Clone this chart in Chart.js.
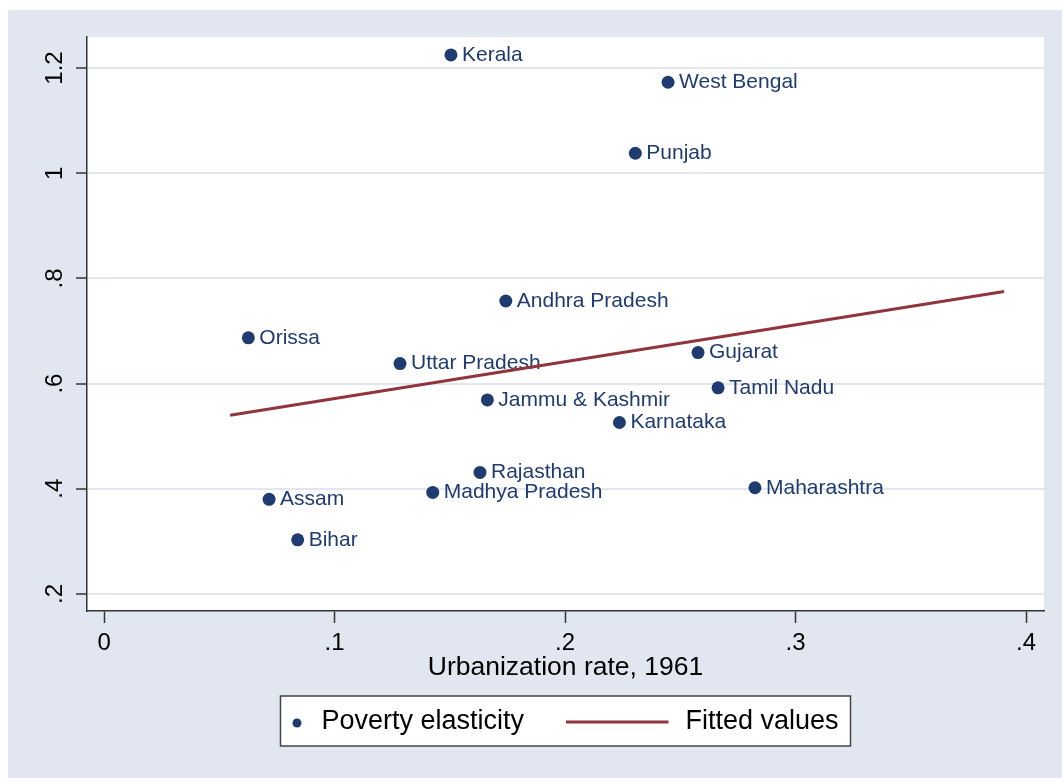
<!DOCTYPE html>
<html>
<head>
<meta charset="utf-8">
<title>Poverty elasticity vs urbanization, 1961</title>
<script src="https://cdn.jsdelivr.net/npm/chart.js@4.4.1/dist/chart.umd.min.js"></script>
<style>
  html, body { margin: 0; padding: 0; background: #ffffff; }
  #wrap { position: absolute; left: 8px; top: 10px; width: 1054px; height: 768px; background: #E1E6F0; }
  canvas { display: block; }
</style>
</head>
<body>
<div id="wrap"><canvas id="chart" width="1054" height="768"></canvas></div>
<script>
// States and their values
const states = [
  "Kerala", "West Bengal", "Punjab", "Andhra Pradesh", "Orissa", "Uttar Pradesh",
  "Gujarat", "Tamil Nadu", "Jammu & Kashmir", "Karnataka", "Rajasthan",
  "Madhya Pradesh", "Maharashtra", "Assam", "Bihar"
];
const urbanization = [
  0.1505, 0.2447, 0.2305, 0.1743, 0.0626, 0.1284,
  0.2577, 0.2664, 0.1663, 0.2236, 0.1631,
  0.1426, 0.2824, 0.0716, 0.0840
];
const povertyElasticity = [
  1.225, 1.173, 1.038, 0.757, 0.687, 0.638,
  0.659, 0.592, 0.569, 0.526, 0.431,
  0.393, 0.402, 0.380, 0.303
];

// Fitted line end points
const fitX = [0.0547, 0.3905];
const fitY = [0.5396, 0.7750];

// Axis ticks
const xTicks = [0, 0.1, 0.2, 0.3, 0.4];
const xTickLabels = ["0", ".1", ".2", ".3", ".4"];
const yTicks = [0.2, 0.4, 0.6, 0.8, 1.0, 1.2];
const yTickLabels = [".2", ".4", ".6", ".8", "1", "1.2"];

const NAVY = "#1F3B6F";
const MAROON = "#90353B";
const BG = "#E1E6F0";
const AXIS = "#333333";
const FONT = "'Liberation Sans', Arial, Helvetica, sans-serif";

const plotBackground = {
  id: "plotBackground",
  beforeDraw(chart) {
    const { ctx, chartArea: a } = chart;
    ctx.save();
    ctx.fillStyle = "#ffffff";
    ctx.fillRect(a.left, a.top, a.right - a.left, a.bottom - a.top);
    ctx.restore();
  },
};

// Marker labels, drawn right after the scatter so the fitted line sits on top
const pointLabels = {
  id: "pointLabels",
  afterDatasetDraw(chart, args) {
    if (args.index !== 0) return;
    const { ctx } = chart;
    ctx.save();
    ctx.font = "21px " + FONT;
    ctx.fillStyle = NAVY;
    ctx.textAlign = "left";
    ctx.textBaseline = "middle";
    args.meta.data.forEach((pt, i) => {
      ctx.fillText(states[i], pt.x + 11, pt.y);
    });
    ctx.restore();
  },
};

// Rotated y tick labels (Stata style)
const yTickText = {
  id: "yTickText",
  afterDraw(chart) {
    const { ctx, chartArea: a } = chart;
    const y = chart.scales.y;
    ctx.save();
    ctx.font = "24px " + FONT;
    ctx.fillStyle = "#000";
    ctx.textAlign = "center";
    ctx.textBaseline = "middle";
    yTicks.forEach((v, i) => {
      ctx.save();
      ctx.translate(a.left - 32, y.getPixelForValue(v));
      ctx.rotate(-Math.PI / 2);
      ctx.fillText(yTickLabels[i], 0, 0);
      ctx.restore();
    });
    ctx.restore();
  },
};

// Boxed legend under the plot
const boxLegend = {
  id: "boxLegend",
  afterDraw(chart) {
    const { ctx, chartArea: a } = chart;
    const w = 570, h = 50;
    const left = (a.left + a.right) / 2 - w / 2;
    const top = chart.height - 82;
    const cy = top + 26;
    const ds = chart.data.datasets;
    ctx.save();
    ctx.fillStyle = "#fff";
    ctx.fillRect(left, top, w, h);
    ctx.strokeStyle = "#444";
    ctx.lineWidth = 1.5;
    ctx.strokeRect(left, top, w, h);

    ctx.fillStyle = ds[0].backgroundColor;
    ctx.beginPath();
    ctx.arc(left + 16.5, cy + 1, 4.5, 0, Math.PI * 2);
    ctx.fill();

    ctx.strokeStyle = ds[1].borderColor;
    ctx.lineWidth = 3;
    ctx.beginPath();
    ctx.moveTo(left + 285.5, cy);
    ctx.lineTo(left + 388, cy);
    ctx.stroke();

    ctx.font = "27px " + FONT;
    ctx.fillStyle = "#000";
    ctx.textAlign = "left";
    ctx.textBaseline = "middle";
    ctx.fillText(ds[0].label, left + 41, cy);
    ctx.fillText(ds[1].label, left + 405, cy);
    ctx.restore();
  },
};

new Chart(document.getElementById("chart"), {
  type: "scatter",
  data: {
    datasets: [
      {
        label: "Poverty elasticity",
        data: urbanization.map((x, i) => ({ x, y: povertyElasticity[i] })),
        backgroundColor: NAVY,
        borderColor: NAVY,
        borderWidth: 0,
        pointRadius: 6.5,
        order: 1,
      },
      {
        type: "line",
        label: "Fitted values",
        data: fitX.map((x, i) => ({ x, y: fitY[i] })),
        borderColor: MAROON,
        borderWidth: 3,
        pointRadius: 0,
        fill: false,
        order: 0,
      },
    ],
  },
  options: {
    responsive: false,
    animation: false,
    events: [],
    layout: { padding: { left: 68, right: 18, top: 27, bottom: 97.5 } },
    plugins: { legend: { display: false }, tooltip: { enabled: false } },
    scales: {
      x: {
        type: "linear",
        min: -0.0074,
        max: 0.4078,
        afterBuildTicks: (s) => { s.ticks = xTicks.map((v) => ({ value: v })); },
        grid: { drawOnChartArea: false, drawTicks: true, tickLength: 12, tickColor: AXIS, tickWidth: 1.5 },
        border: { display: true, color: AXIS, width: 1.5 },
        ticks: {
          padding: 8.5,
          color: "#000",
          font: { family: FONT, size: 24, lineHeight: 1 },
          maxRotation: 0,
          callback: (v) => xTickLabels[xTicks.indexOf(v)],
        },
        title: {
          display: true,
          text: "Urbanization rate, 1961",
          color: "#000",
          font: { family: FONT, size: 26.5, lineHeight: 1 },
          padding: { top: -10, bottom: 0 },
        },
      },
      y: {
        type: "linear",
        min: 0.1676,
        max: 1.259,
        afterBuildTicks: (s) => { s.ticks = yTicks.map((v) => ({ value: v })); },
        grid: { color: BG, lineWidth: 2, drawTicks: true, tickLength: 11, tickColor: AXIS, tickWidth: 1.5 },
        border: { display: true, color: AXIS, width: 1.5 },
        ticks: { display: false },
      },
    },
  },
  plugins: [plotBackground, pointLabels, yTickText, boxLegend],
});
</script>
</body>
</html>
